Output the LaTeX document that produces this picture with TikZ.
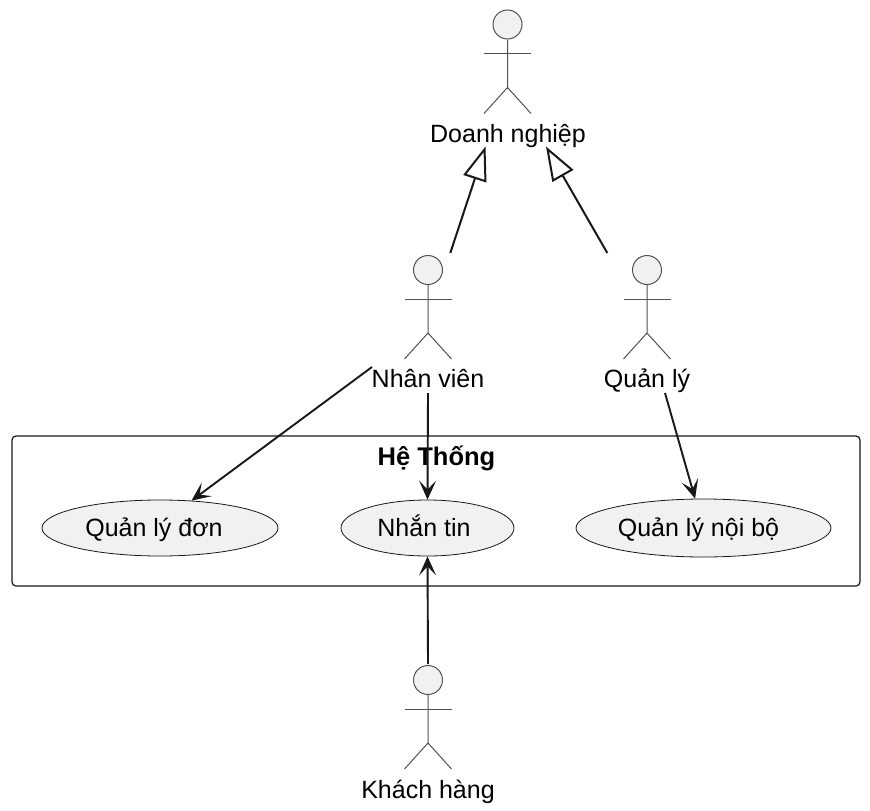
\documentclass[tikz,border=0pt]{standalone}
\usepackage{fontspec}
\setmainfont{Liberation Sans}
\usetikzlibrary{arrows.meta,shapes.geometric,calc}
\definecolor{ink}{HTML}{181818}
\definecolor{soft}{HTML}{F1F1F1}
\tikzset{
  actorline/.style={draw=ink!75!white,line width=1pt},
  head/.style={circle,draw=ink!75!white,line width=1pt,fill=soft,minimum size=29pt,inner sep=0pt},
  lbl/.style={font=\fontsize{25}{28}\selectfont,text=black,anchor=base,inner sep=0pt},
  usecase/.style={ellipse,draw=ink,line width=.8pt,fill=soft,inner sep=0pt},
  sysbox/.style={draw=ink,line width=1.2pt,rounded corners=4pt,fill=white},
  assoc/.style={draw=ink,line width=1.9pt,-{Stealth[length=19pt,width=17pt,inset=9pt]}},
  gener/.style={draw=ink,line width=2pt,-{Triangle[open,length=34pt,width=24pt,fill=white]}}
}
\newcommand{\actorfig}[3]{%
  \node[head] (#1) at (#2,#3) {};
  \draw[actorline] (#1.south) -- ++(0,48) -- ++(-23.5,26) ++(23.5,-26) -- ++(23.5,26);
  \draw[actorline] ($(#1.south)+(-23.5,14)$) -- ++(47,0);
}
\begin{document}
\begin{tikzpicture}[x=1pt,y=-1pt]
\useasboundingbox (0,0) rectangle (870,811);
\node[sysbox,minimum width=848pt,minimum height=150pt,inner sep=0pt] (sys) at (436,511) {};
\node[lbl,font=\fontsize{25.5}{28}\selectfont\bfseries] (systitle) at (436.5,465) {Hệ Thống};
\node[usecase,minimum width=236pt,minimum height=56pt] (uc1) at (160,528) {};
\node[usecase,minimum width=173pt,minimum height=56pt] (uc2) at (427.5,528) {};
\node[usecase,minimum width=255pt,minimum height=58pt] (uc3) at (703.5,528) {};
\node[lbl] (uc1t) at (154,536) {Quản lý đơn};
\node[lbl] (uc2t) at (424,536) {Nhắn tin};
\node[lbl] (uc3t) at (698.5,536) {Quản lý nội bộ};
\actorfig{dn}{507.5}{24.5}
\actorfig{nv}{428}{270}
\actorfig{ql}{647}{270}
\actorfig{kh}{428}{680}
\node[lbl] (dnl) at (508,142) {Doanh nghiệp};
\node[lbl] (nvl) at (428,387) {Nhân viên};
\node[lbl] (qll) at (647,387) {Quản lý};
\node[lbl] (khl) at (428,798) {Khách hàng};
\coordinate (g1s) at (450.3,253);
\coordinate (g1e) at (485.5,146.5);
\coordinate (g2s) at (607.3,253);
\coordinate (g2e) at (546,146.5);
\coordinate (a1s) at (372,367);
\coordinate (a2s) at (428,393);
\coordinate (a3s) at (665,393);
\coordinate (a4s) at (428,664);
\draw[gener] (g1s) -- (g1e);
\draw[gener] (g2s) -- (g2e);
\draw[assoc] (a1s) -- (uc1.41);
\draw[assoc] (a2s) -- (uc2.north);
\draw[assoc] (a3s) -- (uc3.106);
\draw[assoc] (a4s) -- (uc2.south);
\end{tikzpicture}
\end{document}
